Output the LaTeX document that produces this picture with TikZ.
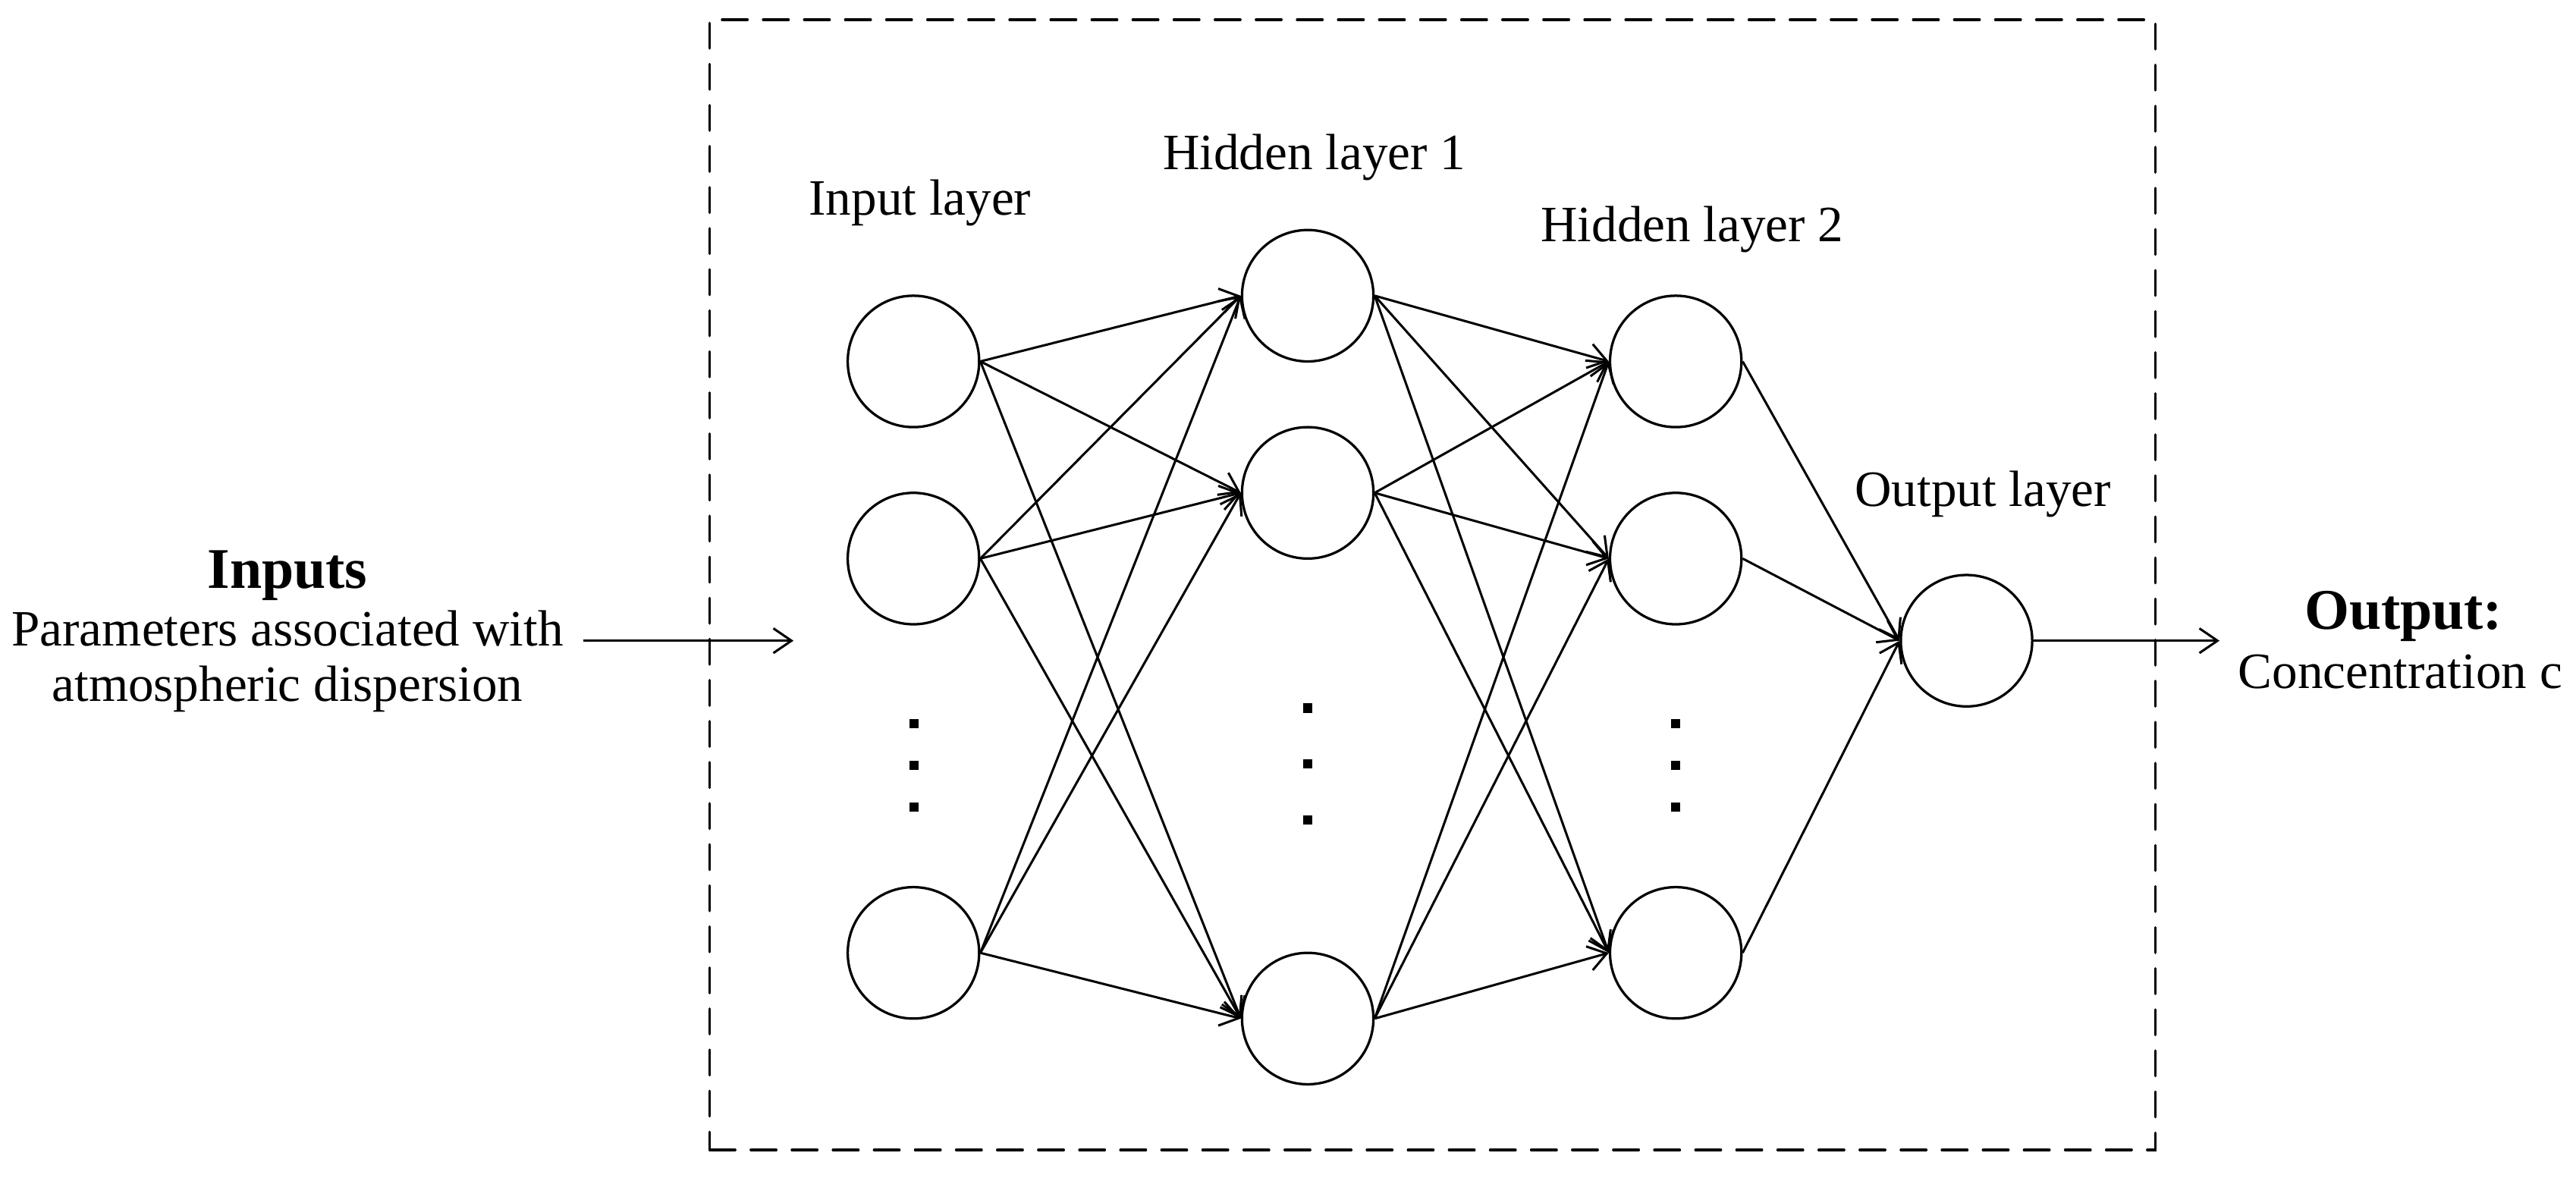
\documentclass[tikz,border=0pt]{standalone}
\usepackage{fontspec}
\setmainfont{Liberation Serif}
\usetikzlibrary{arrows.meta}
\begin{document}
\begin{tikzpicture}[x=1pt,y=-1pt,
  neuron/.style={draw,circle,line width=1.5pt,minimum size=80pt,inner sep=0pt},
  conn/.style={line width=1.4pt,-{Straight Barb[length=11pt,width=15pt,line width=1.4pt]}},
  lbl/.style={anchor=base,inner sep=0pt,font=\fontsize{31}{36}\selectfont},
  blbl/.style={anchor=base,inner sep=0pt,font=\fontsize{35}{40}\selectfont\bfseries},
  vdot/.style={fill=black,minimum width=5.4pt,minimum height=5.6pt,inner sep=0pt}]
\useasboundingbox (0,0) rectangle (1568,717);
\node[draw,dash pattern=on 15.5pt off 9.5pt,line cap=round,line width=1.5pt,minimum width=880pt,minimum height=688pt,inner sep=0pt] (box) at (872,356) {};
% input layer
\node[neuron] (i1) at (556,220) {};
\node[neuron] (i2) at (556,340) {};
\node[neuron] (i3) at (556,580) {};
% hidden 1
\node[neuron] (a1) at (796,180) {};
\node[neuron] (a2) at (796,300) {};
\node[neuron] (a3) at (796,620) {};
% hidden 2
\node[neuron] (b1) at (1020,220) {};
\node[neuron] (b2) at (1020,340) {};
\node[neuron] (b3) at (1020,580) {};
% output
\node[neuron] (o) at (1197,390) {};
% dots
\node[vdot] (di1) at (556.5,440.5) {};
\node[vdot] (di2) at (556.5,466) {};
\node[vdot] (di3) at (556.5,491.3) {};
\node[vdot] (da1) at (796,431) {};
\node[vdot] (da2) at (796,465) {};
\node[vdot] (da3) at (796,499) {};
\node[vdot] (db1) at (1020,440.5) {};
\node[vdot] (db2) at (1020,466) {};
\node[vdot] (db3) at (1020,491.3) {};
% connections
\foreach \s in {i1,i2,i3}{\foreach \t in {a1,a2,a3}{\draw[conn] (\s.east) -- (\t.west);}}
\foreach \s in {a1,a2,a3}{\foreach \t in {b1,b2,b3}{\draw[conn] (\s.east) -- (\t.west);}}
\foreach \s in {b1,b2,b3}{\draw[conn] (\s.east) -- (o.west);}
% labels
\node[lbl] (li) at (560,131) {Input layer};
\node[lbl] (la) at (800,103) {Hidden layer 1};
\node[lbl] (lb) at (1030,147) {Hidden layer 2};
\node[lbl] (lo) at (1207,308) {Output layer};
\node[blbl] (tin) at (175,358) {Inputs};
\node[lbl] (tin2) at (175,393) {Parameters associated with};
\node[lbl] (tin3) at (175,427) {atmospheric dispersion};
\node[blbl] (tout) at (1463,383) {Output:};
\node[lbl] (tout2) at (1461,419) {Concentration c};
\coordinate (ia0) at (355,390);
\coordinate (ia1) at (483,390);
\coordinate (oa1) at (1351,390);
\draw[conn] (ia0) -- (ia1);
\draw[conn] (o.east) -- (oa1);
\end{tikzpicture}
\end{document}
